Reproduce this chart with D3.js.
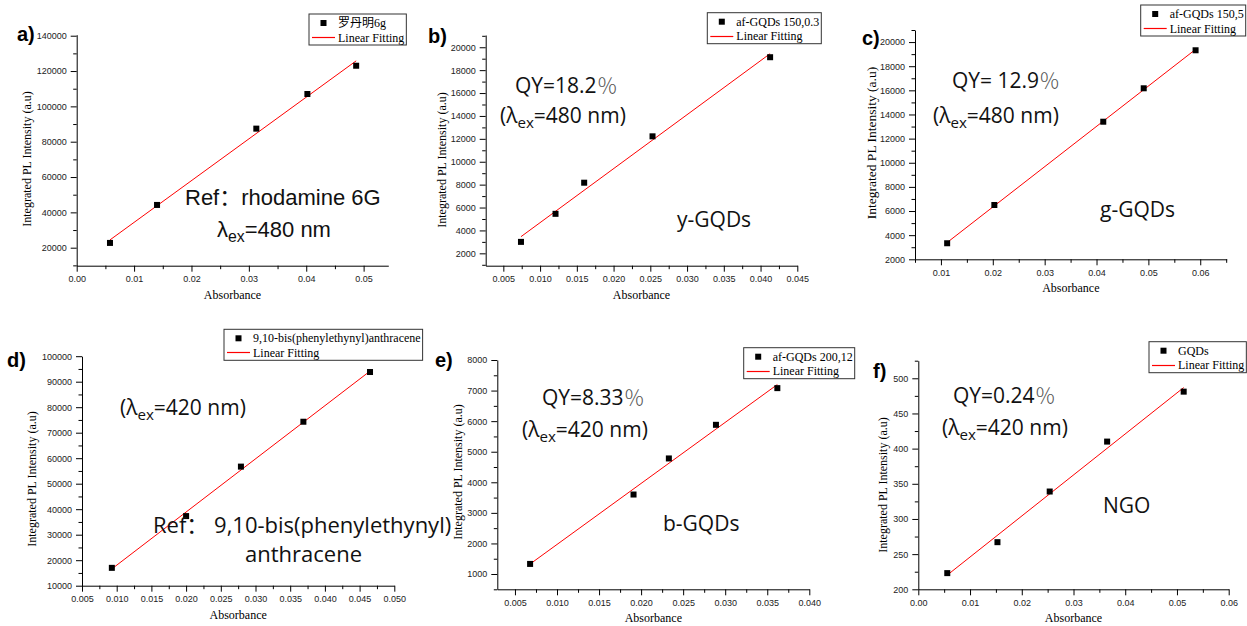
<!DOCTYPE html>
<html>
<head>
<meta charset="utf-8">
<script src="https://cdn.jsdelivr.net/npm/d3@7"></script>
<style>
  body { margin: 0; background: #fff; }
  svg { display: block; }
  .tick text { font-family: "Liberation Sans", Arial, sans-serif; font-size: 9px; fill: #222; }
  .domain, .tick line { stroke: #000; stroke-width: 1; }
</style>
</head>
<body>
<svg id="chart" width="1247" height="626"></svg>
<script>
/* DATA */

// a) reference dye rhodamine 6G
const absA = [0.0058, 0.0140, 0.0313, 0.0402, 0.0487];
const plA  = [22700, 44200, 87400, 107000, 123000];
// b) af-GQDs 150,0.3
const absB = [0.0074, 0.0121, 0.0160, 0.0253, 0.0413];
const plB  = [3000, 5450, 8170, 12220, 19130];
// c) af-GQDs 150,5
const absC = [0.0112, 0.0203, 0.0413, 0.0491, 0.0591];
const plC  = [3330, 6500, 13400, 16170, 19320];
// d) reference 9,10-bis(phenylethynyl)anthracene
const absD = [0.0093, 0.0200, 0.0279, 0.0369, 0.0465];
const plD  = [17000, 37300, 56700, 74300, 93800];
// e) af-GQDs 200,12
const absE = [0.0068, 0.0191, 0.0233, 0.0289, 0.0362];
const plE  = [1330, 3600, 4780, 5880, 7080];
// f) GQDs
const absF = [0.0056, 0.0153, 0.0254, 0.0365, 0.0513];
const plF  = [223, 267, 339, 410, 481];

const seriesNames = ["罗丹明6g", "af-GQDs 150,0.3", "af-GQDs 150,5",
  "9,10-bis(phenylethynyl)anthracene", "af-GQDs 200,12", "GQDs"];
const panelTags = ["a)", "b)", "c)", "d)", "e)", "f)"];

// axis ticks (major)
const xTicksA = [0, 0.01, 0.02, 0.03, 0.04, 0.05];
const yTicksA = [20000, 40000, 60000, 80000, 100000, 120000, 140000];
const xTicksB = [0.005, 0.010, 0.015, 0.020, 0.025, 0.030, 0.035, 0.040, 0.045];
const yTicksB = [2000, 4000, 6000, 8000, 10000, 12000, 14000, 16000, 18000, 20000];
const xTicksC = [0.01, 0.02, 0.03, 0.04, 0.05, 0.06];
const yTicksC = [2000, 4000, 6000, 8000, 10000, 12000, 14000, 16000, 18000, 20000];
const xTicksD = [0.005, 0.010, 0.015, 0.020, 0.025, 0.030, 0.035, 0.040, 0.045, 0.050];
const yTicksD = [10000, 20000, 30000, 40000, 50000, 60000, 70000, 80000, 90000, 100000];
const xTicksE = [0.005, 0.010, 0.015, 0.020, 0.025, 0.030, 0.035, 0.040];
const yTicksE = [1000, 2000, 3000, 4000, 5000, 6000, 7000, 8000];
const xTicksF = [0, 0.01, 0.02, 0.03, 0.04, 0.05, 0.06];
const yTicksF = [200, 250, 300, 350, 400, 450, 500];

// axis ranges
const xDomA = [0, 0.0543],      yDomA = [9810, 140570];
const xDomB = [0.0026, 0.045],  yDomB = [920, 21070];
const xDomC = [0.005, 0.0651],  yDomC = [2000, 21000];
const xDomD = [0.005, 0.050],   yDomD = [10000, 100000];
const xDomE = [0.0029, 0.040],  yDomE = [500, 8000];
const xDomF = [0, 0.06],        yDomF = [200, 525];

/* LAYOUT */
const sub = (t) => ({ t, sub: true });
const panels = [
  { abs: absA, pl: plA, xDom: xDomA, yDom: yDomA, xTicks: xTicksA, yTicks: yTicksA, xFmt: ".2f",
    box: [76.7, 388.3, 34.7, 265.7], tag: [17, 41], legend: [309, 14], ylab: [26.7, 159, 12],
    notes: [
      { x: 185, y: 205, font: "arial", size: 22, segs: [{ t: "Ref：rhodamine 6G" }] },
      { x: 217, y: 237, font: "arial", size: 22, segs: [{ t: "λ" }, sub("ex"), { t: "=480 nm" }] }
    ] },
  { abs: absB, pl: plB, xDom: xDomB, yDom: yDomB, xTicks: xTicksB, yTicks: yTicksB, xFmt: ".3f",
    box: [485.7, 797.3, 35, 265.7], tag: [428, 43], legend: [707.3, 12.7], ylab: [441.7, 160, 12],
    notes: [
      { x: 515, y: 93, segs: [{ t: "QY=18.2" }, { t: "％", light: true }] },
      { x: 500, y: 123, segs: [{ t: "(λ" }, sub("ex"), { t: "=480 nm)" }] },
      { x: 677, y: 227, segs: [{ t: "y-GQDs" }] }
    ] },
  { abs: absC, pl: plC, xDom: xDomC, yDom: yDomC, xTicks: xTicksC, yTicks: yTicksC, xFmt: ".2f",
    box: [915, 1226.7, 30, 259.3], tag: [862, 45], legend: [1140.7, 5], ylab: [871.7, 143, 13.5],
    notes: [
      { x: 952, y: 88, segs: [{ t: "QY= 12.9" }, { t: "％", light: true }] },
      { x: 933, y: 123, segs: [{ t: "(λ" }, sub("ex"), { t: "=480 nm)" }] },
      { x: 1100, y: 217, segs: [{ t: "g-GQDs" }] }
    ] },
  { abs: absD, pl: plD, xDom: xDomD, yDom: yDomD, xTicks: xTicksD, yTicks: yTicksD, xFmt: ".3f",
    box: [82, 394.3, 356.2, 585.7], tag: [7, 367], legend: [224, 329.3], ylab: [31.7, 479, 12],
    notes: [
      { x: 120, y: 415, segs: [{ t: "(λ" }, sub("ex"), { t: "=420 nm)" }] },
      { x: 153, y: 533, size: 22, segs: [{ t: "Ref：  9,10-bis(phenylethynyl)" }] },
      { x: 245, y: 562, size: 22, segs: [{ t: "anthracene" }] }
    ] },
  { abs: absE, pl: plE, xDom: xDomE, yDom: yDomE, xTicks: xTicksE, yTicks: yTicksE, xFmt: ".3f",
    box: [497.3, 809.3, 360, 589.3], tag: [435, 367], legend: [743.7, 347.7], ylab: [458, 472, 12],
    notes: [
      { x: 542, y: 405, segs: [{ t: "QY=8.33" }, { t: "％", light: true }] },
      { x: 522, y: 437, segs: [{ t: "(λ" }, sub("ex"), { t: "=420 nm)" }] },
      { x: 663, y: 531, segs: [{ t: "b-GQDs" }] }
    ] },
  { abs: absF, pl: plF, xDom: xDomF, yDom: yDomF, xTicks: xTicksF, yTicks: yTicksF, xFmt: ".2f",
    box: [918.3, 1228.7, 360.7, 589.3], tag: [873, 378], legend: [1149, 341.7], ylab: [882.7, 485, 12],
    notes: [
      { x: 953, y: 403, segs: [{ t: "QY=0.24" }, { t: "％", light: true }] },
      { x: 942, y: 435, segs: [{ t: "(λ" }, sub("ex"), { t: "=420 nm)" }] },
      { x: 1103, y: 513, segs: [{ t: "NGO" }] }
    ] }
];

const svg = d3.select("#chart");

// least squares line through the measured points (the "Linear Fitting")
function linFit(xs, ys) {
  const mx = d3.mean(xs), my = d3.mean(ys);
  const k = d3.sum(xs, (x, i) => (x - mx) * (ys[i] - my)) / d3.sum(xs, x => (x - mx) ** 2);
  return x => my + k * (x - mx);
}

// minor ticks: halfway between majors, kept inside the domain
function minors(ticks, dom) {
  const step = ticks[1] - ticks[0];
  const out = [];
  for (let v = ticks[0] - step / 2; v <= dom[1] + 1e-9; v += step) {
    if (v >= dom[0] - 1e-9) out.push(v);
  }
  return out;
}

panels.forEach((p, i) => {
  const [l, r, t, b] = p.box;
  const x = d3.scaleLinear().domain(p.xDom).range([l, r]);
  const y = d3.scaleLinear().domain(p.yDom).range([b, t]);
  const g = svg.append("g");

  // minor ticks
  g.append("g").attr("transform", `translate(0,${b})`)
    .call(d3.axisBottom(x).tickValues(minors(p.xTicks, p.xDom)).tickSize(3.5).tickFormat(""))
    .select(".domain").remove();
  g.append("g").attr("transform", `translate(${l},0)`)
    .call(d3.axisLeft(y).tickValues(minors(p.yTicks, p.yDom)).tickSize(3.5).tickFormat(""))
    .select(".domain").remove();

  // major axes
  g.append("g").attr("transform", `translate(0,${b})`)
    .call(d3.axisBottom(x).tickValues(p.xTicks).tickSize(6).tickSizeOuter(0)
      .tickPadding(4).tickFormat(d3.format(p.xFmt)));
  g.append("g").attr("transform", `translate(${l},0)`)
    .call(d3.axisLeft(y).tickValues(p.yTicks).tickSize(6).tickSizeOuter(0)
      .tickPadding(4).tickFormat(d3.format("d")));

  // axis titles
  g.append("text")
    .attr("x", (l + r) / 2).attr("y", b + 33)
    .attr("text-anchor", "middle")
    .style("font-family", "'Liberation Serif', 'Times New Roman', serif")
    .style("font-size", "12px")
    .text("Absorbance");
  g.append("text")
    .attr("transform", `translate(${p.ylab[0]},${p.ylab[1]}) rotate(-90)`)
    .attr("text-anchor", "middle")
    .attr("dy", "0.35em")
    .style("font-family", "'Liberation Serif', 'Times New Roman', serif")
    .style("font-size", p.ylab[2] + "px")
    .text("Integrated PL Intensity (a.u)");

  // fit line
  const fit = linFit(p.abs, p.pl);
  const ends = d3.extent(p.abs);
  g.append("path")
    .datum(ends)
    .attr("fill", "none")
    .attr("stroke", "#ff0000")
    .attr("stroke-width", 1)
    .attr("d", d3.line().x(d => x(d)).y(d => y(fit(d))));

  // points
  g.selectAll(".pt")
    .data(p.abs.map((a, j) => [a, p.pl[j]]))
    .join("rect")
    .attr("class", "pt")
    .attr("x", d => x(d[0]) - 3)
    .attr("y", d => y(d[1]) - 3)
    .attr("width", 6)
    .attr("height", 6)
    .attr("fill", "#000");

  // panel tag
  g.append("text")
    .attr("x", p.tag[0]).attr("y", p.tag[1])
    .style("font-family", "'Liberation Sans', Arial, sans-serif")
    .style("font-weight", "bold")
    .style("font-size", "20px")
    .text(panelTags[i]);

  // legend
  const [lx, ly] = p.legend;
  const lg = g.append("g");
  const frame = lg.append("rect")
    .attr("x", lx).attr("y", ly).attr("height", 31)
    .attr("fill", "#fff").attr("stroke", "#333").attr("stroke-width", 1);
  lg.append("rect")
    .attr("x", lx + 11.5).attr("y", ly + 6).attr("width", 6).attr("height", 6).attr("fill", "#000");
  lg.append("line")
    .attr("x1", lx + 3).attr("x2", lx + 26)
    .attr("y1", Math.round(ly + 23) + 0.5).attr("y2", Math.round(ly + 23) + 0.5)
    .style("stroke", "#ff0000").style("stroke-width", 1.2);
  const lt = [seriesNames[i], "Linear Fitting"].map((s, k) =>
    lg.append("text")
      .attr("x", lx + 29).attr("y", ly + 13 + k * 14.5)
      .style("font-family", "'Liberation Serif', 'Times New Roman', 'Noto Sans CJK SC', serif")
      .style("font-size", "12px")
      .text(s));
  const w = d3.max(lt, s => s.node().getComputedTextLength());
  frame.attr("width", 29 + w + 2);

  // annotations
  p.notes.forEach(n => {
    const arial = n.font === "arial";
    const size = n.size || 21;
    const txt = g.append("text")
      .attr("x", n.x).attr("y", n.y)
      .style("font-family", arial
        ? "'Liberation Sans', Arial, 'Noto Sans CJK SC', sans-serif"
        : "'Open Sans', 'Noto Sans CJK SC', sans-serif")
      .style("font-size", size + "px")
      .style("fill", "#111");
    let shifted = false;
    n.segs.forEach(s => {
      const ts = txt.append("tspan").text(s.t);
      if (s.sub) {
        ts.attr("dy", 5).style("font-size", (size * 0.72) + "px");
        shifted = true;
      } else if (shifted) {
        ts.attr("dy", -5);
        shifted = false;
      }
      if (s.light) ts.style("font-weight", 300).style("fill", "#555");
    });
  });
});
</script>
</body>
</html>
